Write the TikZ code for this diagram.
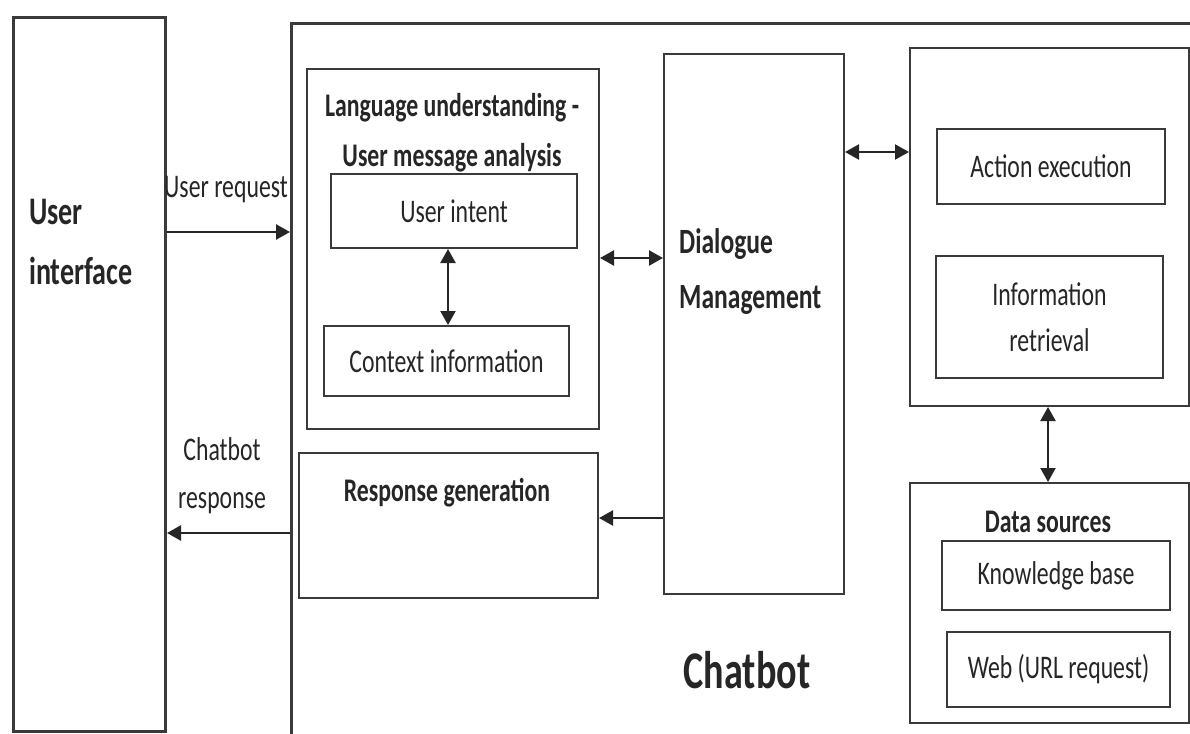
\documentclass[tikz,border=0pt]{standalone}
\usepackage{fontspec}
\setmainfont{Carlito}[FakeStretch=0.72]
\usetikzlibrary{arrows.meta}
\definecolor{linegray}{HTML}{3A3A3A}
\definecolor{textgray}{HTML}{262626}
\tikzset{
  box/.style={draw=linegray, line width=2pt, anchor=north west, inner sep=0pt,
    text=textgray, align=center, font=\fontsize{33}{46}\selectfont},
  txt/.style={text=textgray, inner sep=0pt, font=\fontsize{33}{48}\selectfont},
  btxt/.style={text=black!85, inner sep=0pt, font=\bfseries\fontsize{33}{50}\selectfont},
  arr/.style={-{Triangle[length=14pt,width=15pt]}, line width=2.5pt, draw=black!85},
  darr/.style={{Triangle[length=14pt,width=15pt]}-{Triangle[length=14pt,width=15pt]}, line width=2.2pt, draw=black!85},
}
\begin{document}
\begin{tikzpicture}[x=1pt,y=-1pt]
\useasboundingbox[fill=white] (0,0) rectangle (1190,733);

% outer boxes
\node[box, line width=3pt, minimum width=152, minimum height=714] (ui) at (12,16) {};
\node[btxt, anchor=west, align=left, font=\bfseries\fontsize{39}{60}\selectfont] (uitxt) at (29,242) {User\\interface};
\node[box, line width=3.2pt, minimum width=930, minimum height=740] (chat) at (290,22) {};
\node[btxt, font=\bfseries\fontsize{53}{56}\selectfont] (chattxt) at (747,670) {Chatbot};

% language understanding
\node[box, minimum width=292, minimum height=360] (lu) at (306,68) {};
\node[btxt, align=center] (lutxt) at (452,133) {Language understanding -\\User message analysis};
\node[box, minimum width=246, minimum height=74] (intent) at (330,173) {User intent};
\node[box, minimum width=245, minimum height=70] (ctx) at (323,325) {Context information};

% response generation
\node[box, minimum width=299, minimum height=145] (rg) at (298,452) {};
\node[btxt] (rgtxt) at (447,493) {Response generation};

% dialogue management
\node[box, minimum width=180, minimum height=540] (dm) at (663,53) {};
\node[btxt, anchor=west, align=left, font=\bfseries\fontsize{35.5}{55}\selectfont] (dmtxt) at (679,272) {Dialogue\\Management};

% right upper box
\node[box, minimum width=279, minimum height=358] (act) at (909,47) {};
\node[box, minimum width=228, minimum height=75] (ae) at (936,128) {Action execution};
\node[box, minimum width=227, minimum height=122] (ir) at (935,255) {Information\\retrieval};

% data sources
\node[box, minimum width=279, minimum height=240] (ds) at (909,482) {};
\node[btxt] (dstxt) at (1048,522) {Data sources};
\node[box, minimum width=228, minimum height=69] (kb) at (941,540) {Knowledge base};
\node[box, minimum width=223, minimum height=75] (web) at (946,631) {Web (URL request)};

% labels
\node[txt] (reqtxt) at (226,190) {User request};
\node[txt, align=center] (resptxt) at (222,476) {Chatbot\\response};

% connectors
\coordinate (yreq) at (0,232);
\coordinate (yresp) at (0,533);
\coordinate (ylu) at (0,258);
\coordinate (yrg) at (0,518);
\coordinate (yact) at (0,152);
\coordinate (xds) at (1048,0);
\coordinate (xctx) at (448,0);

\draw[arr] (ui.east |- yreq) -- (chat.west |- yreq);
\draw[arr] (chat.west |- yresp) -- (ui.east |- yresp);
\draw[darr] (intent.south -| xctx) -- (ctx.north -| xctx);
\draw[darr] (lu.east |- ylu) -- (dm.west |- ylu);
\draw[arr, line width=2.2pt] (dm.west |- yrg) -- (rg.east |- yrg);
\draw[darr] (dm.east |- yact) -- (act.west |- yact);
\draw[darr] (act.south -| xds) -- (ds.north -| xds);
\end{tikzpicture}
\end{document}
